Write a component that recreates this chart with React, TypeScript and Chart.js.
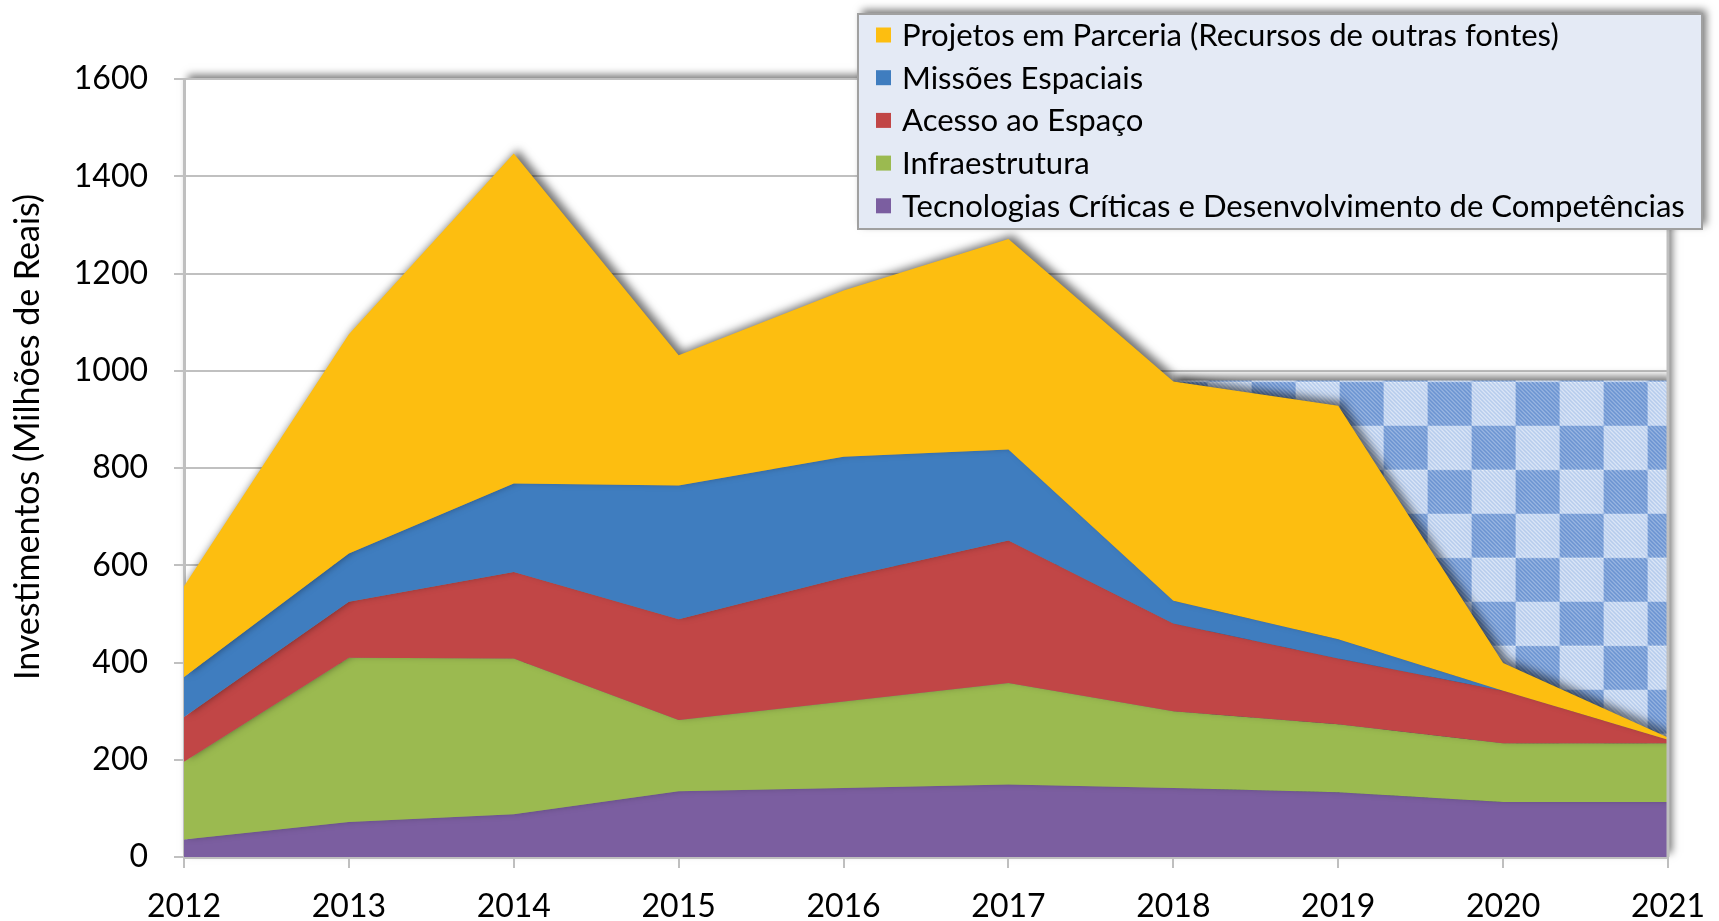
import React, { useEffect, useRef } from 'react';
import { Chart, registerables } from 'chart.js';

Chart.register(...registerables);

const years = ['2012', '2013', '2014', '2015', '2016', '2017', '2018', '2019', '2020', '2021'];

const tecnologias = [36, 72, 88, 135, 142, 149, 142, 133, 113, 113];
const infraestrutura = [160, 338, 320, 147, 178, 209, 158, 140, 121, 121];
const acesso = [92, 115, 178, 207, 255, 293, 180, 135, 108, 7];
const missoes = [82, 99, 182, 275, 248, 187, 47, 40, 0, 0];
const projetos = [187, 451, 679, 268, 342, 433, 451, 480, 57, 5];
const previsao = [null, null, null, null, null, null, 980, 980, 980, 980];

const yTicks = [0, 200, 400, 600, 800, 1000, 1200, 1400, 1600];

const seriesLabels = [
  'Tecnologias Críticas e Desenvolvimento de Competências',
  'Infraestrutura',
  'Acesso ao Espaço',
  'Missões Espaciais',
  'Projetos em Parceria (Recursos de outras fontes)',
];
const seriesColors = ['#7B5EA0', '#9BBA50', '#C14646', '#3F7DBF', '#FDBE10'];
const yTitle = 'Investimentos (Milhões de Reais)';

const FONT = 'Lato';

function makePattern(ctx: CanvasRenderingContext2D) {
  const S = 44;
  const T = 2 * S;
  const c = document.createElement('canvas');
  c.width = T;
  c.height = T;
  const g = c.getContext('2d')!;
  for (let i = 0; i < 2; i++) {
    for (let j = 0; j < 2; j++) {
      const dark = (i + j) % 2 === 0;
      g.save();
      g.beginPath();
      g.rect(i * S, j * S, S, S);
      g.clip();
      g.fillStyle = dark ? '#C6D7F1' : '#FFFFFF';
      g.fillRect(i * S, j * S, S, S);
      g.strokeStyle = dark ? '#6791D0' : '#B3CAEC';
      g.lineWidth = 2;
      for (let d = -T; d < 2 * T; d += 4) {
        g.beginPath();
        g.moveTo(d, 0);
        g.lineTo(d + T, T);
        g.stroke();
      }
      g.restore();
    }
  }
  const p = ctx.createPattern(c, 'repeat')!;
  try {
    p.setTransform(new DOMMatrix([1, 0, 0, 1, 1251.6, 381.7]));
  } catch (e) {}
  return p;
}

function setShadow(ctx: CanvasRenderingContext2D) {
  ctx.shadowColor = 'rgba(0,0,0,0.55)';
  ctx.shadowBlur = 8;
  ctx.shadowOffsetX = 4;
  ctx.shadowOffsetY = -4;
}

const decorPlugin = {
  id: 'decor',
  beforeDraw(chart: any) {
    const { ctx, chartArea: a } = chart;
    ctx.save();
    setShadow(ctx);
    ctx.fillStyle = '#FFFFFF';
    ctx.fillRect(a.left, a.top, a.right - a.left, a.bottom - a.top);
    ctx.restore();
  },
  beforeDatasetsDraw(chart: any) {
    const { ctx } = chart;
    ctx.save();
    setShadow(ctx);
  },
  afterDatasetsDraw(chart: any) {
    const { ctx, chartArea: a } = chart;
    ctx.restore();
    ctx.save();
    ctx.strokeStyle = '#BFBFBF';
    ctx.lineWidth = 3;
    ctx.beginPath();
    ctx.moveTo(a.right, a.top);
    ctx.lineTo(a.right, a.bottom);
    ctx.stroke();
    ctx.restore();
  },
  afterDraw(chart: any) {
    const { ctx } = chart;
    // y axis title
    ctx.save();
    ctx.translate(28, 437);
    ctx.rotate(-Math.PI / 2);
    ctx.font = `34px ${FONT}`;
    ctx.fillStyle = '#000000';
    ctx.textAlign = 'center';
    ctx.textBaseline = 'middle';
    ctx.fillText(yTitle, 0, 0);
    ctx.restore();

    // legend
    const bx = 858, by = 14, bw = 844, bh = 215;
    ctx.save();
    setShadow(ctx);
    ctx.fillStyle = '#E4EAF5';
    ctx.fillRect(bx, by, bw, bh);
    ctx.restore();
    ctx.save();
    ctx.strokeStyle = '#A0A0A0';
    ctx.lineWidth = 2;
    ctx.strokeRect(bx, by, bw, bh);
    const order = [4, 3, 2, 1, 0];
    ctx.font = `28px ${FONT}`;
    const w = ctx.measureText(seriesLabels[0]).width;
    const size = 28 * 783 / w;
    ctx.font = `${size}px ${FONT}`;
    ctx.textBaseline = 'middle';
    ctx.textAlign = 'left';
    order.forEach((k, i) => {
      const cy = 35 + i * 42.7;
      ctx.fillStyle = seriesColors[k];
      ctx.fillRect(876, cy - 7.5, 15, 15);
      ctx.fillStyle = '#000000';
      ctx.fillText(seriesLabels[k], 902, cy + 1);
    });
    ctx.restore();
  },
};

export default function App() {
  const ref = useRef<HTMLCanvasElement>(null);

  useEffect(() => {
    const canvas = ref.current!;
    const ctx = canvas.getContext('2d')!;
    const pattern = makePattern(ctx);

    const bottomUp = [tecnologias, infraestrutura, acesso, missoes, projetos];
    let run = years.map(() => 0);
    const cumul = bottomUp.map((arr) => {
      run = run.map((v, i) => v + arr[i]);
      return run.slice();
    });

    const datasets: any[] = [4, 3, 2, 1, 0].map((k) => ({
      label: seriesLabels[k],
      data: cumul[k],
      backgroundColor: seriesColors[k],
      borderColor: 'rgba(0,0,0,0)',
      borderWidth: 0,
      pointRadius: 0,
      fill: k === 0 ? 'origin' : '+1',
      tension: 0,
    }));
    datasets.push({
      label: 'previsao',
      data: previsao,
      backgroundColor: pattern,
      borderColor: 'rgba(0,0,0,0)',
      borderWidth: 0,
      pointRadius: 0,
      fill: 'origin',
      tension: 0,
    });

    const chart = new Chart(canvas, {
      type: 'line',
      data: { labels: years, datasets },
      plugins: [decorPlugin],
      options: {
        animation: false,
        responsive: false,
        devicePixelRatio: 1,
        events: [],
        layout: { padding: { top: 79, right: 51, left: 0, bottom: 0 } },
        plugins: {
          legend: { display: false },
          tooltip: { enabled: false },
          title: { display: false },
        },
        scales: {
          x: {
            type: 'category',
            offset: false,
            grid: {
              display: true,
              drawOnChartArea: false,
              drawTicks: true,
              tickLength: 11,
              color: '#BFBFBF',
              lineWidth: 2,
            },
            border: { display: true, color: '#BFBFBF', width: 3 },
            ticks: {
              color: '#000000',
              font: { family: FONT, size: 32 },
              padding: 19,
              maxRotation: 0,
              autoSkip: false,
            },
            afterFit(scale: any) {
              scale.height = 64;
              scale.paddingLeft = 0;
              scale.paddingRight = 0;
            },
          },
          y: {
            min: 0,
            max: 1600,
            afterBuildTicks(scale: any) {
              scale.ticks = yTicks.map((v) => ({ value: v }));
            },
            grid: {
              color: '#C0C0C0',
              lineWidth: 2,
              tickLength: 10,
              drawTicks: true,
            },
            border: { display: true, color: '#BFBFBF', width: 3 },
            ticks: {
              color: '#000000',
              font: { family: FONT, size: 32 },
              padding: 26,
              callback: (v: any) => String(v),
            },
            afterFit(scale: any) {
              scale.width = 184;
              scale.paddingTop = 0;
              scale.paddingBottom = 0;
            },
          },
        },
      },
    });
    return () => chart.destroy();
  }, []);

  return (
    <div style={{ position: 'absolute', left: 0, top: 0, width: 1719, height: 921, background: '#FFFFFF' }}>
      <canvas ref={ref} width={1719} height={921} style={{ display: 'block', width: 1719, height: 921 }} />
    </div>
  );
}
